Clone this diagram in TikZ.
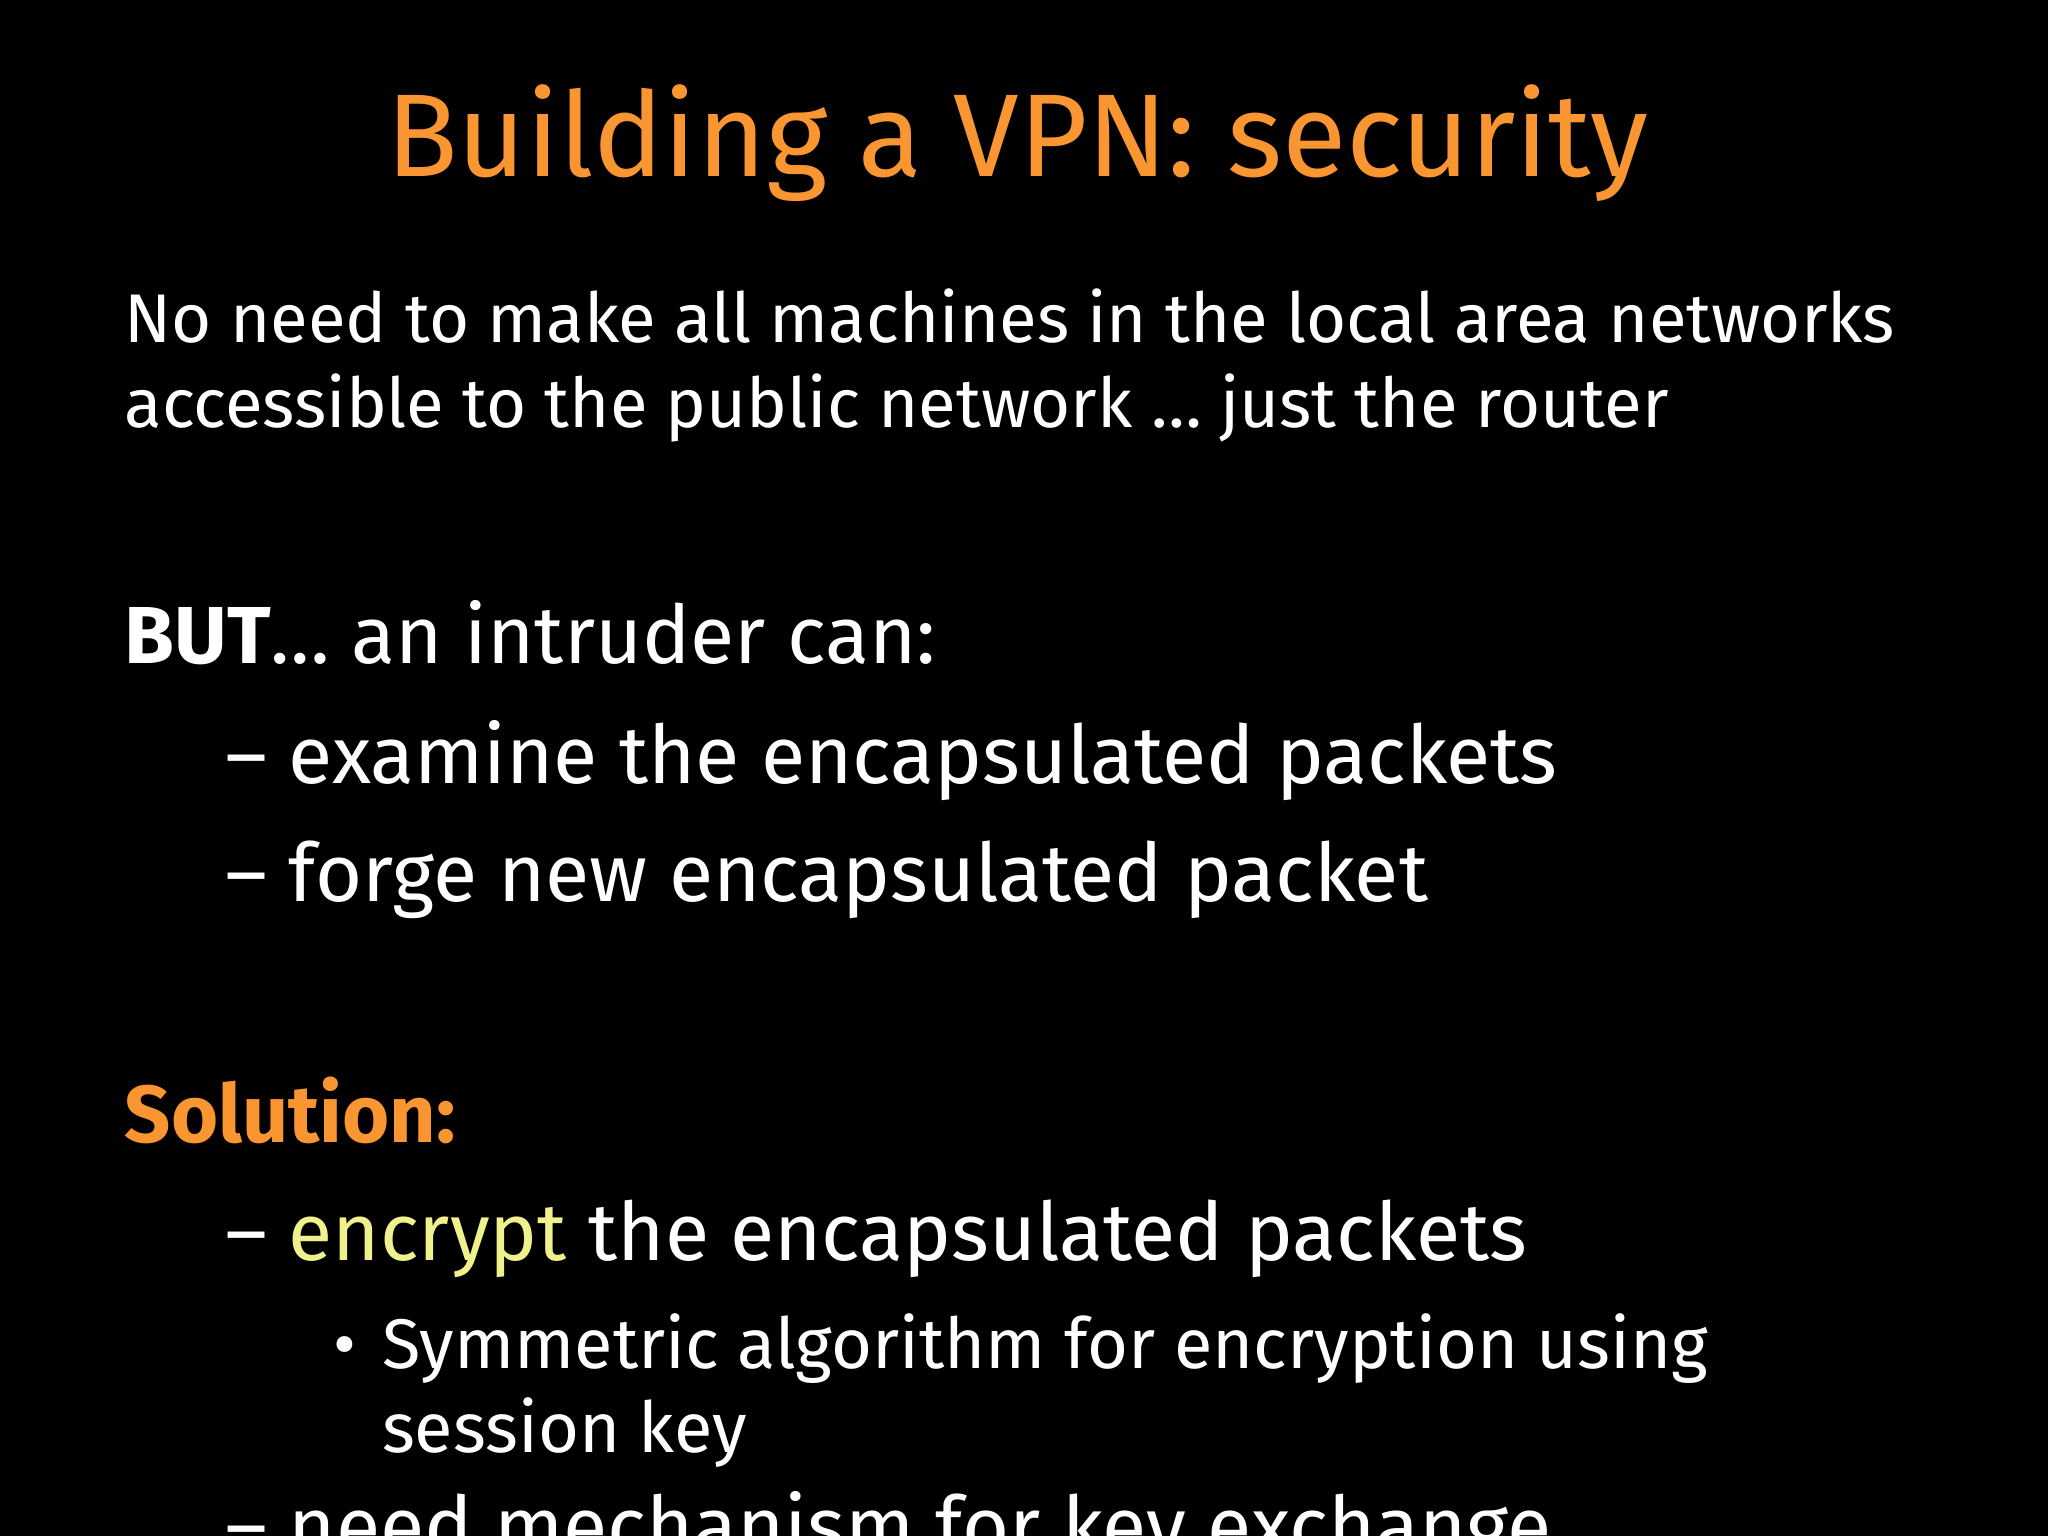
\documentclass[tikz,border=0pt]{standalone}
\usepackage{fontspec}
\setmainfont{Fira Sans}
\definecolor{orng}{RGB}{250,150,50}
\definecolor{ylw}{RGB}{240,240,140}
\begin{document}
\begin{tikzpicture}[x=0.013061cm,y=-0.013061cm,
  txt/.style={anchor=base west,inner sep=0,text=white,font=\fontsize{19.6}{24}\selectfont},
  big/.style={anchor=base west,inner sep=0,text=white,font=\fontsize{23}{28}\selectfont},
  sm/.style={anchor=base west,inner sep=0,text=white,font=\fontsize{20}{24}\selectfont}]
\fill[black] (0,0) rectangle (1568,1176);
\useasboundingbox (0,0) rectangle (1568,1176);
\node[anchor=base,inner sep=0,text=orng,font=\fontsize{33.5}{38}\selectfont] (title) at (779,135) {Building a VPN: security};
\node[txt] (l1) at (95,262) {No need to make all machines in the local area networks};
\node[txt] (l2) at (95,327) {accessible to the public network … just the router};
\node[big] (but) at (95,508) {\textbf{BUT}… an intruder can:};
\node[big] (b1) at (172,600) {– examine the encapsulated packets};
\node[big] (b2) at (172,690) {– forge new encapsulated packet};
\node[big,text=orng] (sol) at (95,875) {\textbf{Solution:}};
\node[big] (s1) at (172,965) {– \textcolor{ylw}{encrypt} the encapsulated packets};
\node[sm] (dot) at (255,1048) {•};
\node[sm] (s2) at (292,1048) {Symmetric algorithm for encryption using};
\node[sm] (s3) at (292,1112) {session key};
\node[big] (s4) at (172,1190) {– need mechanism for key exchange};
\end{tikzpicture}
\end{document}
